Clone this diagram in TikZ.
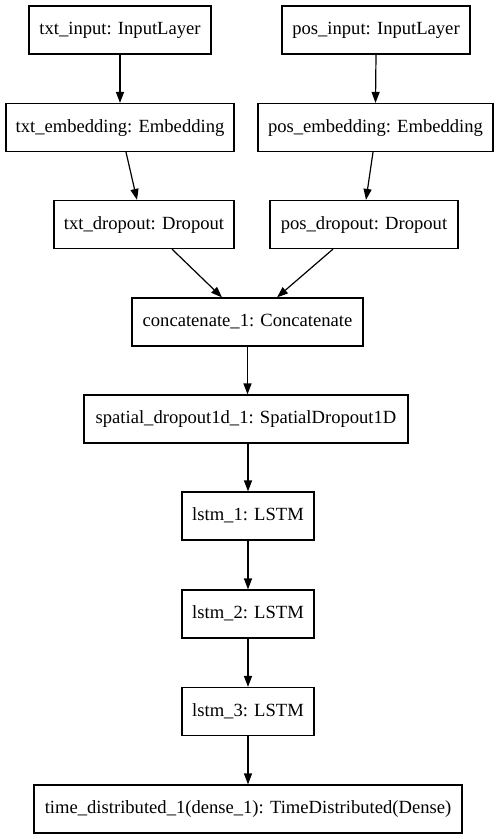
\documentclass[tikz,border=0pt]{standalone}
\usepackage{fontspec}
\setmainfont{Liberation Serif}
\usetikzlibrary{arrows.meta}
\begin{document}
\begin{tikzpicture}[x=1pt,y=-1pt,
  layer/.style={draw, line width=1.2pt, rectangle, inner sep=0pt, minimum height=48pt,
    font=\fontsize{18.6}{22}\selectfont, text height=13pt, text depth=4pt},
  conn/.style={line width=1.2pt, -{Triangle[length=11pt,width=8pt]}}]
\useasboundingbox (0,0) rectangle (499,839);
\node[layer, minimum width=182pt] (ti) at (120,30) {txt\_input: InputLayer};
\node[layer, minimum width=188pt] (pi) at (376,30) {pos\_input: InputLayer};
\node[layer, minimum width=228pt] (te) at (120,127.5) {txt\_embedding: Embedding};
\node[layer, minimum width=235pt] (pe) at (375.5,127.5) {pos\_embedding: Embedding};
\node[layer, minimum width=180pt] (td) at (144,224.5) {txt\_dropout: Dropout};
\node[layer, minimum width=188pt] (pd) at (364,224.5) {pos\_dropout: Dropout};
\node[layer, minimum width=231pt] (cc) at (247.5,322) {concatenate\_1: Concatenate};
\node[layer, minimum width=324pt] (sd) at (246,419) {spatial\_dropout1d\_1: SpatialDropout1D};
\node[layer, minimum width=132pt] (l1) at (248,516) {lstm\_1: LSTM};
\node[layer, minimum width=132pt] (l2) at (248,614) {lstm\_2: LSTM};
\node[layer, minimum width=132pt] (l3) at (248,711.5) {lstm\_3: LSTM};
\node[layer, minimum width=428pt] (tdd) at (248,809) {time\_distributed\_1(dense\_1): TimeDistributed(Dense)};
\draw[conn] (ti.south) -- (te.north);
\draw[conn] (pi.south) -- (pe.north);
\draw[conn] ([xshift=6pt]te.south) -- ([xshift=-7pt]td.north);
\draw[conn] ([xshift=-2.5pt]pe.south) -- ([xshift=2pt]pd.north);
\draw[conn] ([xshift=28pt]td.south) -- ([xshift=-25.5pt]cc.north);
\draw[conn] ([xshift=-31pt]pd.south) -- ([xshift=29.5pt]cc.north);
\draw[conn] (cc.south) -- (cc.south |- sd.north);
\draw[conn] (sd.south -| l1.south) -- (l1.north);
\draw[conn] (l1.south) -- (l2.north);
\draw[conn] (l2.south) -- (l3.north);
\draw[conn] (l3.south) -- (tdd.north);
\end{tikzpicture}
\end{document}
